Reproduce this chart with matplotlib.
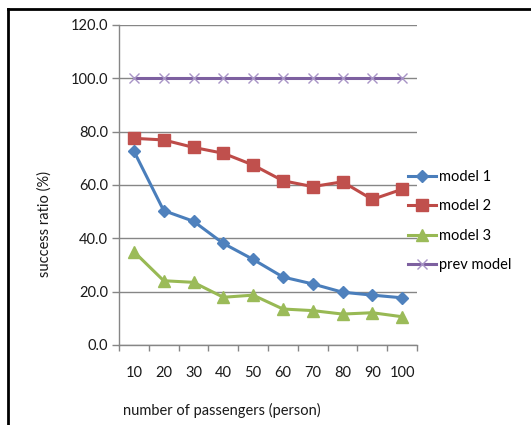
import matplotlib
matplotlib.use("Agg")
import matplotlib.pyplot as plt
from matplotlib.lines import Line2D
import numpy as np

plt.rcParams['font.family'] = ['Lato', 'DejaVu Sans']

passengers = ["10", "20", "30", "40", "50", "60", "70", "80", "90", "100"]
model1 = [72.7, 50.4, 46.4, 38.1, 32.1, 25.5, 22.9, 19.8, 18.7, 17.7]
model2 = [77.5, 76.9, 74.1, 71.9, 67.5, 61.6, 59.4, 61.2, 54.6, 58.4]
model3 = [35.0, 24.1, 23.5, 17.9, 18.7, 13.5, 12.9, 11.6, 12.1, 10.6]
prev_model = [100.0] * 10
y_ticks = [0, 20, 40, 60, 80, 100, 120]

W, H = 531, 425
FS = 10.5
fig = plt.figure(figsize=(W / 100, H / 100), dpi=100)
ax = fig.add_axes([119 / W, 1 - 345 / H, (417 - 119) / W, (345 - 25) / H])

x = np.arange(len(passengers))
grid_c = '#868686'
text_c = '#1a1a1a'

ax.plot(x, model1, color='#4A7EBB', lw=2.2, marker='D', ms=6.5,
        mfc='#4F81BD', mec='#4F81BD', label='model 1', zorder=5)
ax.plot(x, model2, color='#BE4B48', lw=2.2, marker='s', ms=8,
        mfc='#C0504D', mec='#C0504D', label='model 2', zorder=4)
ax.plot(x, model3, color='#98B954', lw=2.2, marker='^', ms=8.5,
        mfc='#9BBB59', mec='#9BBB59', label='model 3', zorder=3)
ax.plot(x, prev_model, color='#7D60A0', lw=2.2, marker='x', ms=7,
        mec='#A894C6', mew=1.0, label='prev model', zorder=2)

ax.set_xlim(-0.5, len(passengers) - 0.5)
ax.set_ylim(0, 120)
ax.set_yticks(y_ticks)
ax.set_yticklabels([f"{v:.1f}" for v in y_ticks], fontsize=FS, color=text_c)
ax.yaxis.grid(True, color=grid_c, lw=1.0)
ax.set_axisbelow(True)

ax.set_xticks(np.arange(len(passengers) + 1) - 0.5)
ax.set_xticklabels([])
ax.set_xticks(x, minor=True)
ax.set_xticklabels(passengers, minor=True, fontsize=FS, color=text_c)
ax.tick_params(axis='x', which='minor', length=0, pad=15)
ax.tick_params(axis='x', which='major', length=4, width=1, color=grid_c)
ax.tick_params(axis='y', length=5, width=1, color=grid_c, pad=3)

for s in ['top', 'right']:
    ax.spines[s].set_visible(False)
for s in ['left', 'bottom']:
    ax.spines[s].set_color(grid_c)
    ax.spines[s].set_linewidth(1.0)

fig.text(45 / W, 1 - 224 / H, 'success ratio (%)', rotation=90,
         ha='center', va='center', fontsize=FS, color=text_c)
fig.text(222 / W, 1 - 410 / H, 'number of passengers (person)',
         ha='center', va='center', fontsize=FS, color=text_c)

ax.legend(loc='upper left', bbox_to_anchor=(408 / W, 1 - 170 / H),
          bbox_transform=fig.transFigure, frameon=False, fontsize=FS,
          handlelength=1.9, handletextpad=0.25, labelspacing=1.06,
          borderaxespad=0, borderpad=0)

# outer frame (top and left edges)
fig.add_artist(Line2D([7.5 / W, 1], [1 - 9 / H, 1 - 9 / H], color='black',
                      lw=2.0, transform=fig.transFigure, solid_capstyle='projecting'))
fig.add_artist(Line2D([7.5 / W, 7.5 / W], [1 - 9 / H, 0], color='black',
                      lw=2.0, transform=fig.transFigure, solid_capstyle='projecting'))

fig.savefig('out.png', dpi=100)
